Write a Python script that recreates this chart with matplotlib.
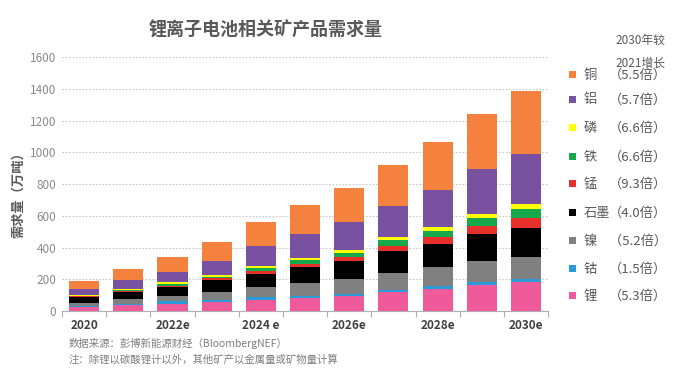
import matplotlib
matplotlib.use("Agg")
import matplotlib.pyplot as plt
import numpy as np

plt.rcParams['font.family'] = ['Noto Sans CJK SC', 'DejaVu Sans']

years = ["2020", "2021", "2022e", "2023e", "2024 e", "2025e", "2026e", "2027e", "2028e", "2029e", "2030e"]
shown_labels = ["2020", "", "2022e", "", "2024 e", "", "2026e", "", "2028e", "", "2030e"]

# bottom-to-top stacking order
series_names = ["锂", "钴", "镍", "石墨", "锰", "铁", "磷", "铝", "铜"]
growth = ["（5.3倍）", "（1.5倍）", " （5.2倍）", "（4.0倍）", "（9.3倍）", "（6.6倍）", "（6.6倍）", "（5.7倍）", "（5.5倍）"]
colors = ["#EF5A9B", "#2A9BD8", "#808080", "#000000", "#E8302A", "#16A94B", "#FFFF00", "#7852A0", "#F5813E"]

lithium  = [25, 35, 46, 56, 71, 81, 95, 120, 141, 162, 183]
cobalt   = [8, 11, 15, 15, 15, 14, 15, 14, 17, 23, 17]
nickel   = [20, 28, 31, 49, 65, 79, 91, 108, 118, 127, 143]
graphite = [35, 44, 59, 74, 85, 104, 111, 138, 148, 171, 178]
manganese= [4, 7, 7, 12, 17, 21, 25, 29, 44, 50, 63]
iron     = [5, 9, 13, 9, 19, 23, 30, 36, 38, 53, 59]
phosphor = [4, 5, 10, 12, 12, 13, 15, 19, 21, 28, 30]
aluminum = [36, 56, 66, 91, 123, 151, 178, 200, 238, 280, 317]
copper   = [52, 72, 93, 119, 152, 182, 218, 254, 298, 345, 395]

data = [lithium, cobalt, nickel, graphite, manganese, iron, phosphor, aluminum, copper]

fig = plt.figure(figsize=(6.77, 3.76), dpi=100)
ax = fig.add_axes([0.0916, 0.173, 0.718, 0.675])

x = np.arange(len(years))
bottom = np.zeros(len(years))
for vals, c, n in zip(data, colors, series_names):
    ax.bar(x, vals, bottom=bottom, width=0.68, color=c, edgecolor='none', zorder=3)
    bottom += np.array(vals)

ax.set_xlim(-0.5, len(years) - 0.5)
ax.set_ylim(0, 1600)
ax.set_yticks(np.arange(0, 1601, 200))
ax.tick_params(axis='y', length=0, labelsize=8.5, labelcolor='#8a8a8a', pad=4)
ax.yaxis.grid(True, linestyle=(0, (1.5, 1.5)), color='#c8c8c8', linewidth=0.8, zorder=0)

ax.set_xticks(np.arange(-0.5, len(years), 1.0))
ax.set_xticklabels([])
ax.tick_params(axis='x', which='major', length=4, color='#b0b0b0', direction='out')
ax.set_xticks(x, minor=True)
ax.set_xticklabels(shown_labels, minor=True)
ax.tick_params(axis='x', which='minor', length=0, labelsize=8.5, labelcolor='#404040', pad=6)
for lbl in ax.get_xticklabels(minor=True):
    lbl.set_fontweight('bold')

for s in ['top', 'right', 'left']:
    ax.spines[s].set_visible(False)
ax.spines['bottom'].set_color('#b0b0b0')

fig.text(0.027, 0.49, "需求量（万吨）", rotation=90, ha='center', va='center',
         fontsize=9.5, fontweight='bold', color='#595959')

fig.text(0.393, 0.92, "锂离子电池相关矿产品需求量", ha='center', va='center',
         fontsize=13, fontweight='bold', color='#595959')

# legend / growth panel
fig.text(0.983, 0.893, "2030年较", ha='right', va='center', fontsize=8.5, color='#595959')
fig.text(0.983, 0.832, "2021增长", ha='right', va='center', fontsize=8.5, color='#595959')
ys = [296, 269, 241, 213, 184, 157, 128, 100, 75]
for n, c, g, yp in zip(series_names, colors, growth, ys):
    fy = 1 - yp / 376
    fig.patches.append(plt.Rectangle((0.840, fy - 0.009), 0.011, 0.019, transform=fig.transFigure,
                                     facecolor=c, edgecolor='none'))
    fig.text(0.862, fy, n, ha='left', va='center', fontsize=9.5, color='#595959')
    fig.text(0.985, fy, g, ha='right', va='center', fontsize=9.5, color='#595959')

fig.text(0.102, 0.087, "数据来源：彭博新能源财经（BloombergNEF）", ha='left', va='center',
         fontsize=7.5, color='#7f7f7f', style='italic')
fig.text(0.102, 0.043, "注：除锂以碳酸锂计以外，其他矿产以金属量或矿物量计算", ha='left', va='center',
         fontsize=7.5, color='#7f7f7f', style='italic')

fig.savefig("out.png", dpi=100)
